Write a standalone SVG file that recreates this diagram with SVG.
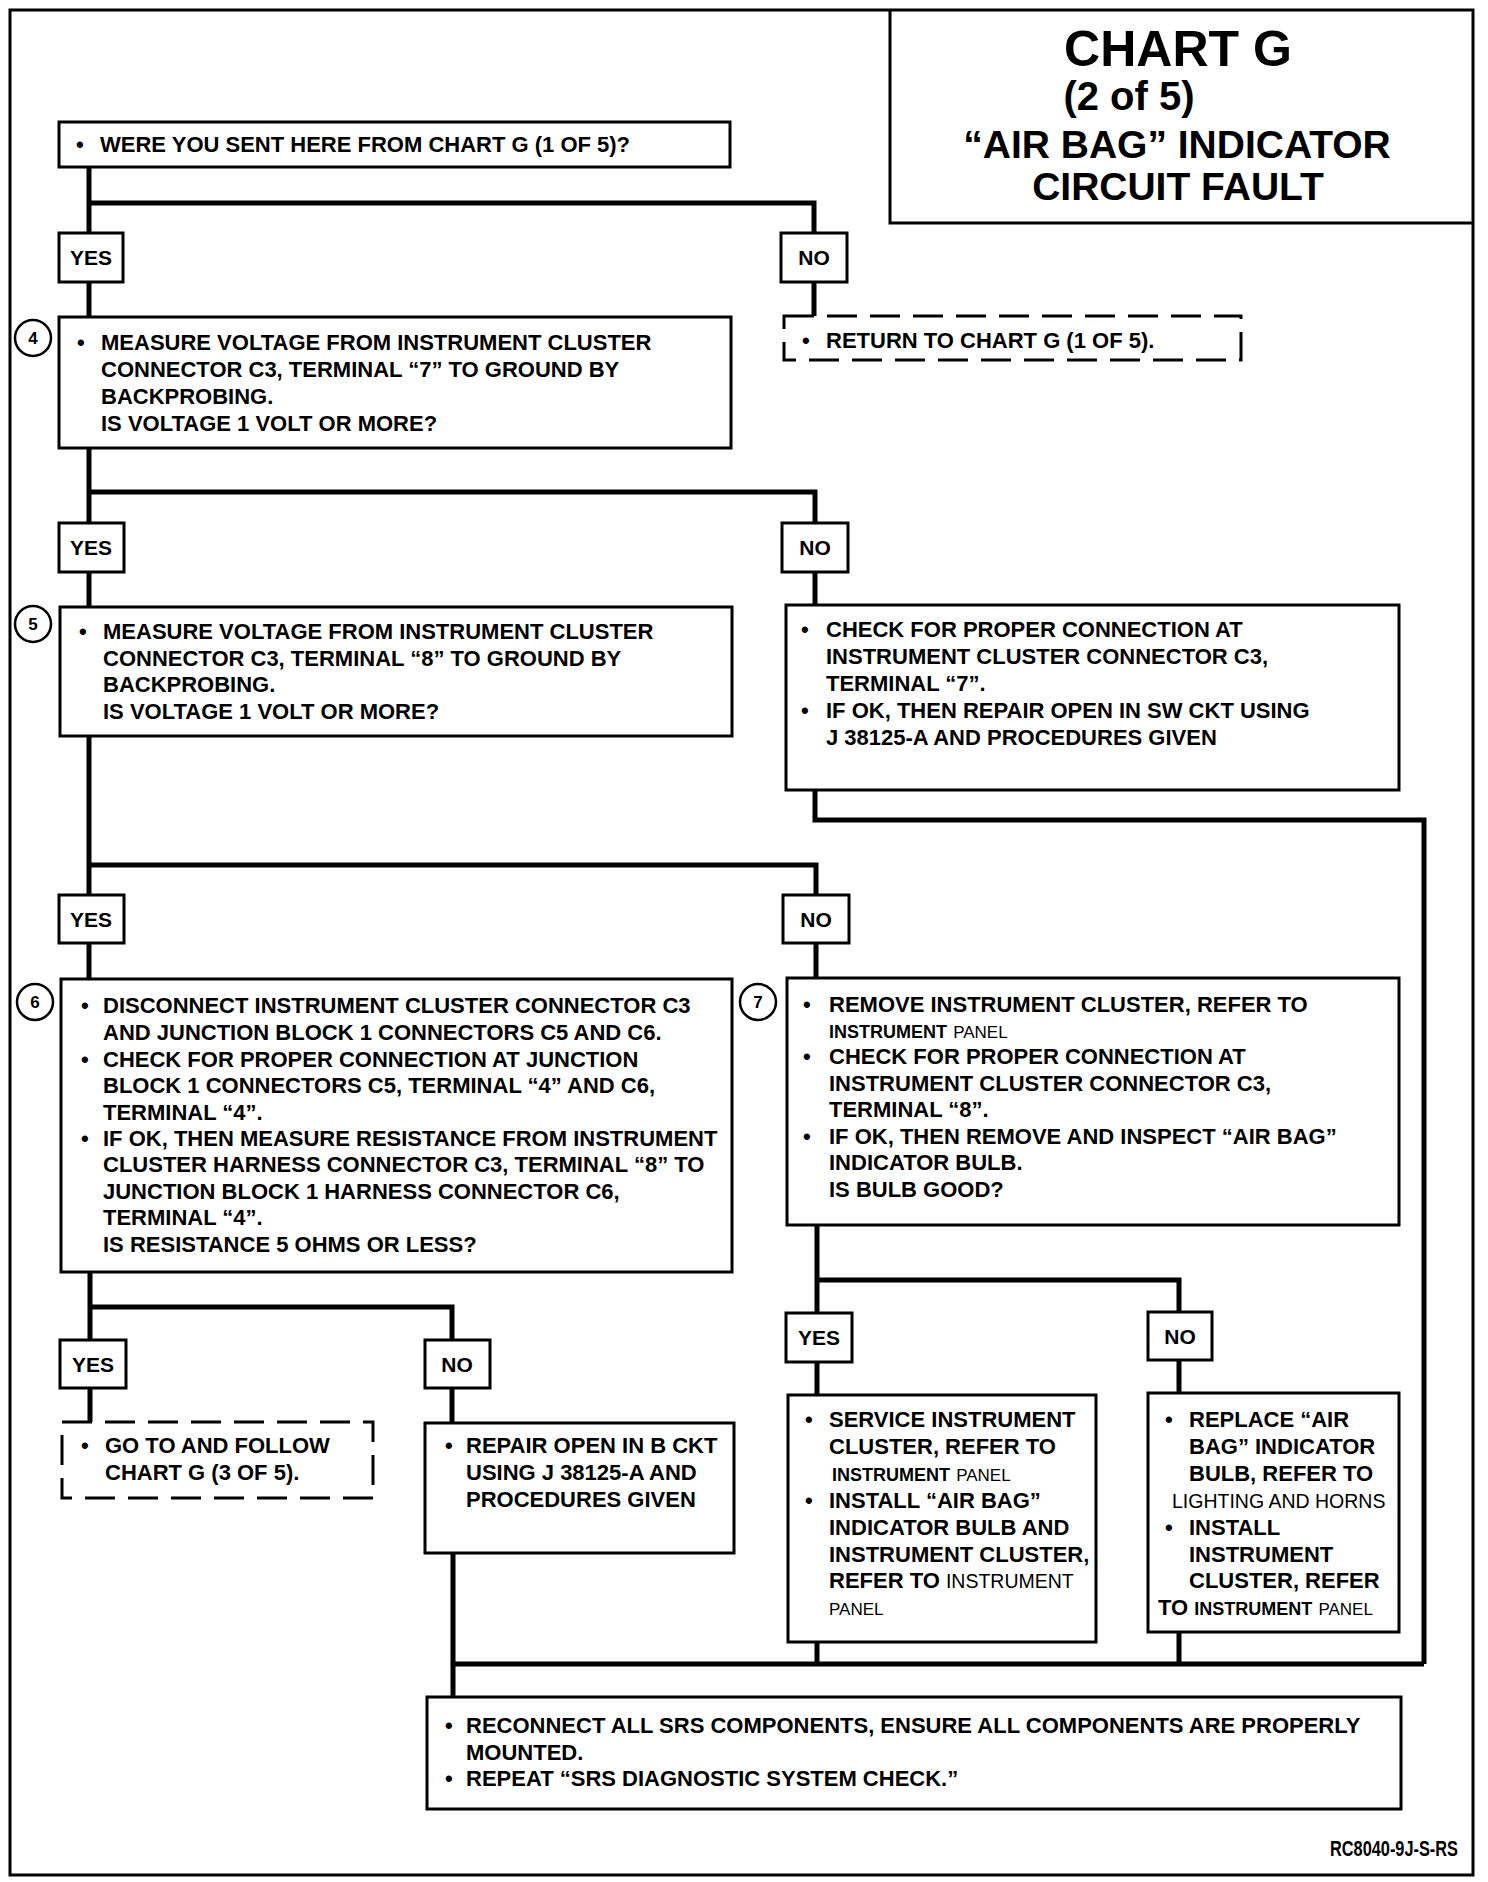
<svg xmlns="http://www.w3.org/2000/svg" width="1488" height="1882" viewBox="0 0 1488 1882">
<style>
  .frame{fill:none;stroke:#000;stroke-width:3}
  .box{fill:#fff;stroke:#000;stroke-width:3}
  .dash{fill:#fff;stroke:#000;stroke-width:3;stroke-dasharray:30 13}
  .lbl{fill:#fff;stroke:#000;stroke-width:3}
  .conn{fill:none;stroke:#000;stroke-width:5}
  .t{font-family:"Liberation Sans",Arial,sans-serif;font-weight:bold;font-size:22px;fill:#000}
  .yn{font-family:"Liberation Sans",Arial,sans-serif;font-weight:bold;font-size:21px;fill:#000;text-anchor:middle}
  .ttl{font-family:"Liberation Sans",Arial,sans-serif;font-weight:bold;fill:#000;text-anchor:middle}
  .num{font-family:"Liberation Sans",Arial,sans-serif;font-weight:bold;font-size:17px;fill:#000;text-anchor:middle}
  .circ{fill:#fff;stroke:#000;stroke-width:2.5}
  .sm{font-weight:bold;font-size:18px}
  .th{font-weight:normal;font-size:17px}
  .rg{font-weight:normal;font-size:19.5px}
</style>
<rect id="border" class="frame" x="10" y="10" width="1463" height="1865"/>
<g id="title">
  <path class="frame" d="M890 10 V223 H1473"/>
  <text class="ttl" x="1178" y="66" font-size="50">CHART G</text>
  <text class="ttl" x="1129" y="110" font-size="40">(2 of 5)</text>
  <text class="ttl" x="1177" y="158" font-size="39">“AIR BAG” INDICATOR</text>
  <text class="ttl" x="1178" y="200" font-size="39">CIRCUIT FAULT</text>
</g>
<g id="connectors">
  <path class="conn" d="M89 167 V317"/>
  <path class="conn" d="M89 203 H814 V316"/>
  <path class="conn" d="M89 448 V607"/>
  <path class="conn" d="M89 492 H815 V605"/>
  <path class="conn" d="M89 736 V979"/>
  <path class="conn" d="M89 865 H816 V978"/>
  <path class="conn" d="M90 1272 V1422"/>
  <path class="conn" d="M90 1307 H452 V1423"/>
  <path class="conn" d="M817 1225 V1395"/>
  <path class="conn" d="M817 1280 H1179 V1393"/>
  <path class="conn" d="M453 1553 V1697"/>
  <path class="conn" d="M815 790 V820 H1424 V1664"/>
  <path class="conn" d="M453 1664 H1424"/>
  <path class="conn" d="M817 1642 V1664"/>
  <path class="conn" d="M1179 1632 V1664"/>
</g>
<g id="q1">
  <rect class="box" x="59" y="122" width="671" height="45"/>
  <text class="t" x="76" y="152">•</text>
  <text class="t" x="100" y="152">WERE YOU SENT HERE FROM CHART G (1 OF 5)?</text>
</g>
<g id="yes1"><rect class="lbl" x="59" y="233" width="64" height="49"/><text class="yn" x="91" y="265">YES</text></g>
<g id="no1"><rect class="lbl" x="781" y="233" width="66" height="49"/><text class="yn" x="814" y="265">NO</text></g>
<g id="ret1">
  <rect class="dash" x="784" y="316" width="457" height="44"/>
  <text class="t" x="802" y="348">•</text>
  <text class="t" x="826" y="348">RETURN TO CHART G (1 OF 5).</text>
</g>
<g id="step4">
  <circle class="circ" cx="33" cy="338" r="18"/><text class="num" x="33" y="344">4</text>
  <rect class="box" x="59" y="317" width="672" height="131"/>
  <text class="t" x="77" y="350">•</text>
  <text class="t" x="101" y="350">MEASURE VOLTAGE FROM INSTRUMENT CLUSTER</text>
  <text class="t" x="101" y="377">CONNECTOR C3, TERMINAL “7” TO GROUND BY</text>
  <text class="t" x="101" y="404">BACKPROBING.</text>
  <text class="t" x="101" y="431">IS VOLTAGE 1 VOLT OR MORE?</text>
</g>
<g id="yes2"><rect class="lbl" x="59" y="523" width="65" height="49"/><text class="yn" x="91" y="555">YES</text></g>
<g id="no2"><rect class="lbl" x="782" y="523" width="66" height="49"/><text class="yn" x="815" y="555">NO</text></g>
<g id="step5">
  <circle class="circ" cx="33" cy="624" r="18"/><text class="num" x="33" y="630">5</text>
  <rect class="box" x="60" y="607" width="672" height="129"/>
  <text class="t" x="79" y="639">•</text>
  <text class="t" x="103" y="639">MEASURE VOLTAGE FROM INSTRUMENT CLUSTER</text>
  <text class="t" x="103" y="666">CONNECTOR C3, TERMINAL “8” TO GROUND BY</text>
  <text class="t" x="103" y="692">BACKPROBING.</text>
  <text class="t" x="103" y="719">IS VOLTAGE 1 VOLT OR MORE?</text>
</g>
<g id="check7">
  <rect class="box" x="786" y="605" width="613" height="185"/>
  <text class="t" x="801" y="637">•</text>
  <text class="t" x="826" y="637">CHECK FOR PROPER CONNECTION AT</text>
  <text class="t" x="826" y="664">INSTRUMENT CLUSTER CONNECTOR C3,</text>
  <text class="t" x="826" y="691">TERMINAL “7”.</text>
  <text class="t" x="801" y="718">•</text>
  <text class="t" x="826" y="718">IF OK, THEN REPAIR OPEN IN SW CKT USING</text>
  <text class="t" x="826" y="745">J 38125-A AND PROCEDURES GIVEN</text>
</g>
<g id="yes3"><rect class="lbl" x="59" y="895" width="65" height="48"/><text class="yn" x="91" y="927">YES</text></g>
<g id="no3"><rect class="lbl" x="783" y="895" width="66" height="48"/><text class="yn" x="816" y="927">NO</text></g>
<g id="step6">
  <circle class="circ" cx="35" cy="1002" r="18"/><text class="num" x="35" y="1008">6</text>
  <rect class="box" x="61" y="979" width="671" height="293"/>
  <text class="t" x="81" y="1013">•</text>
  <text class="t" x="103" y="1013">DISCONNECT INSTRUMENT CLUSTER CONNECTOR C3</text>
  <text class="t" x="103" y="1040">AND JUNCTION BLOCK 1 CONNECTORS C5 AND C6.</text>
  <text class="t" x="81" y="1067">•</text>
  <text class="t" x="103" y="1067">CHECK FOR PROPER CONNECTION AT JUNCTION</text>
  <text class="t" x="103" y="1093">BLOCK 1 CONNECTORS C5, TERMINAL “4” AND C6,</text>
  <text class="t" x="103" y="1120">TERMINAL “4”.</text>
  <text class="t" x="81" y="1146">•</text>
  <text class="t" x="103" y="1146">IF OK, THEN MEASURE RESISTANCE FROM INSTRUMENT</text>
  <text class="t" x="103" y="1172">CLUSTER HARNESS CONNECTOR C3, TERMINAL “8” TO</text>
  <text class="t" x="103" y="1199">JUNCTION BLOCK 1 HARNESS CONNECTOR C6,</text>
  <text class="t" x="103" y="1225">TERMINAL “4”.</text>
  <text class="t" x="103" y="1252">IS RESISTANCE 5 OHMS OR LESS?</text>
</g>
<g id="step7">
  <circle class="circ" cx="758" cy="1002" r="18"/><text class="num" x="758" y="1008">7</text>
  <rect class="box" x="787" y="978" width="612" height="247"/>
  <text class="t" x="803" y="1012">•</text>
  <text class="t" x="829" y="1012">REMOVE INSTRUMENT CLUSTER, REFER TO</text>
  <text class="t" x="829" y="1038"><tspan class="sm">INSTRUMENT</tspan> <tspan class="th">PANEL</tspan></text>
  <text class="t" x="803" y="1064">•</text>
  <text class="t" x="829" y="1064">CHECK FOR PROPER CONNECTION AT</text>
  <text class="t" x="829" y="1091">INSTRUMENT CLUSTER CONNECTOR C3,</text>
  <text class="t" x="829" y="1117">TERMINAL “8”.</text>
  <text class="t" x="803" y="1144">•</text>
  <text class="t" x="829" y="1144">IF OK, THEN REMOVE AND INSPECT “AIR BAG”</text>
  <text class="t" x="829" y="1170">INDICATOR BULB.</text>
  <text class="t" x="829" y="1197">IS BULB GOOD?</text>
</g>
<g id="yes4"><rect class="lbl" x="60" y="1340" width="66" height="48"/><text class="yn" x="93" y="1372">YES</text></g>
<g id="no4"><rect class="lbl" x="425" y="1340" width="65" height="48"/><text class="yn" x="457" y="1372">NO</text></g>
<g id="goto3">
  <rect class="dash" x="62" y="1422" width="311" height="76"/>
  <text class="t" x="81" y="1453">•</text>
  <text class="t" x="105" y="1453">GO TO AND FOLLOW</text>
  <text class="t" x="105" y="1480">CHART G (3 OF 5).</text>
</g>
<g id="repairB">
  <rect class="box" x="425" y="1423" width="309" height="130"/>
  <text class="t" x="445" y="1453">•</text>
  <text class="t" x="466" y="1453">REPAIR OPEN IN B CKT</text>
  <text class="t" x="466" y="1480">USING J 38125-A AND</text>
  <text class="t" x="466" y="1507">PROCEDURES GIVEN</text>
</g>
<g id="yes5"><rect class="lbl" x="786" y="1313" width="66" height="49"/><text class="yn" x="819" y="1345">YES</text></g>
<g id="no5"><rect class="lbl" x="1148" y="1312" width="64" height="48"/><text class="yn" x="1180" y="1344">NO</text></g>
<g id="service">
  <rect class="box" x="788" y="1395" width="308" height="247"/>
  <text class="t" x="805" y="1427">•</text>
  <text class="t" x="829" y="1427">SERVICE INSTRUMENT</text>
  <text class="t" x="829" y="1454">CLUSTER, REFER TO</text>
  <text class="t" x="832" y="1481"><tspan class="sm">INSTRUMENT</tspan> <tspan class="th">PANEL</tspan></text>
  <text class="t" x="805" y="1508">•</text>
  <text class="t" x="829" y="1508">INSTALL “AIR BAG”</text>
  <text class="t" x="829" y="1535">INDICATOR BULB AND</text>
  <text class="t" x="829" y="1562">INSTRUMENT CLUSTER,</text>
  <text class="t" x="829" y="1588">REFER TO <tspan class="rg">INSTRUMENT</tspan></text>
  <text class="t" x="829" y="1615"><tspan class="th">PANEL</tspan></text>
</g>
<g id="replace">
  <rect class="box" x="1148" y="1393" width="251" height="239"/>
  <text class="t" x="1165" y="1427">•</text>
  <text class="t" x="1189" y="1427">REPLACE “AIR</text>
  <text class="t" x="1189" y="1454">BAG” INDICATOR</text>
  <text class="t" x="1189" y="1481">BULB, REFER TO</text>
  <text class="t" x="1172" y="1508"><tspan class="rg">LIGHTING AND HORNS</tspan></text>
  <text class="t" x="1165" y="1535">•</text>
  <text class="t" x="1189" y="1535">INSTALL</text>
  <text class="t" x="1189" y="1562">INSTRUMENT</text>
  <text class="t" x="1189" y="1588">CLUSTER, REFER</text>
  <text class="t" x="1158" y="1615">TO <tspan class="sm">INSTRUMENT</tspan> <tspan class="th">PANEL</tspan></text>
</g>
<g id="final">
  <rect class="box" x="427" y="1697" width="974" height="112"/>
  <text class="t" x="445" y="1733">•</text>
  <text class="t" x="466" y="1733">RECONNECT ALL SRS COMPONENTS, ENSURE ALL COMPONENTS ARE PROPERLY</text>
  <text class="t" x="466" y="1760">MOUNTED.</text>
  <text class="t" x="445" y="1786">•</text>
  <text class="t" x="466" y="1786">REPEAT “SRS DIAGNOSTIC SYSTEM CHECK.”</text>
</g>
<text id="ref" class="t" x="1458" y="1856" font-size="15" text-anchor="end" textLength="128" lengthAdjust="spacingAndGlyphs">RC8040-9J-S-RS</text>
</svg>
